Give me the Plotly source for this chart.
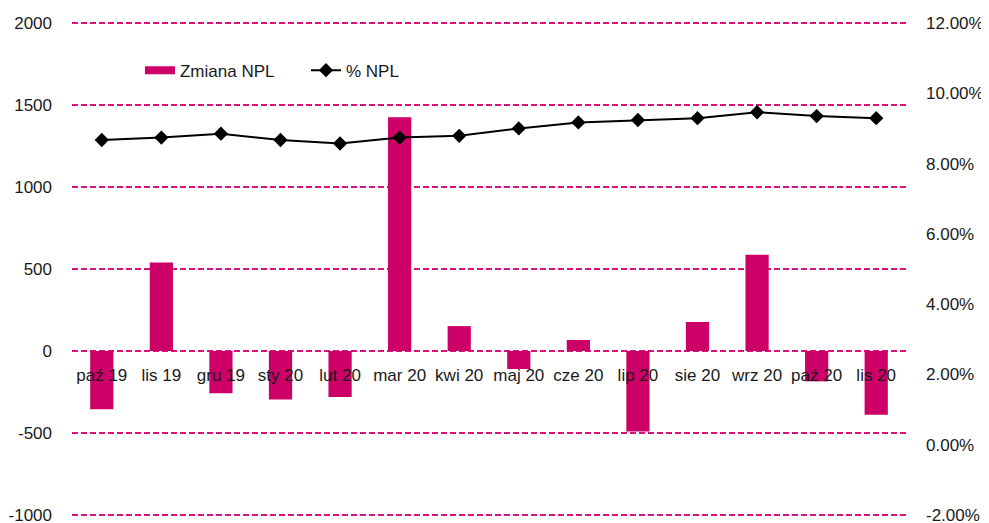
import plotly.graph_objects as go

categories = ["paź 19", "lis 19", "gru 19", "sty 20", "lut 20", "mar 20", "kwi 20",
              "maj 20", "cze 20", "lip 20", "sie 20", "wrz 20", "paź 20", "lis 20"]
zmiana_npl = [-355, 540, -258, -295, -280, 1425, 152, -110, 67, -490, 177, 587, -185, -388]
pct_npl = [0.0867, 0.0874, 0.0885, 0.0867, 0.0857, 0.0874, 0.0879,
           0.0900, 0.0917, 0.0924, 0.0929, 0.0946, 0.0935, 0.0929]

left_ticks = [-1000, -500, 0, 500, 1000, 1500, 2000]
left_labels = ["-1000", "-500", "0", "500", "1000", "1500", "2000"]
right_ticks = [-0.02, 0.0, 0.02, 0.04, 0.06, 0.08, 0.10, 0.12]
right_labels = ["-2.00%", "0.00%", "2.00%", "4.00%", "6.00%", "8.00%", "10.00%", "12.00%"]

BAR = "#CC0066"
GRID = "#D8127A"
FONT = "Liberation Sans, Arial, sans-serif"
FS = 17

# small padding so the edge gridlines (2000 / -1000) are drawn
PAD = 12
left_range = [-1000 - PAD, 2000 + PAD]
scale = 0.14 / 3000
right_range = [-0.02 - PAD * scale, 0.12 + PAD * scale]

fig = go.Figure()
fig.add_trace(go.Bar(
    x=categories, y=zmiana_npl, name="Zmiana NPL", showlegend=False,
    marker=dict(color=BAR, line=dict(width=0)), width=0.39, yaxis="y",
))
# legend entry for the bars (wide flat swatch like the original)
fig.add_trace(go.Scatter(
    x=[None], y=[None], name="Zmiana NPL", mode="lines",
    line=dict(color=BAR, width=8), yaxis="y", hoverinfo="skip",
))
fig.add_trace(go.Scatter(
    x=categories, y=pct_npl, name="% NPL", yaxis="y2", mode="lines+markers",
    line=dict(color="black", width=2),
    marker=dict(symbol="diamond", size=11, color="black"),
))

fig.update_layout(
    width=989, height=523,
    margin=dict(l=64, r=91, t=13, b=14),
    plot_bgcolor="white", paper_bgcolor="white",
    font=dict(family=FONT, size=FS, color="#1a1a1a"),
    showlegend=True,
    legend=dict(orientation="h", x=0.0815, y=0.9, xanchor="left", yanchor="middle",
                font=dict(size=FS), bgcolor="rgba(0,0,0,0)",
                entrywidth=121, entrywidthmode="pixels"),
    xaxis=dict(
        type="category", range=[-0.5, len(categories) - 0.5],
        anchor="free", position=(1000 + PAD) / (3000 + 2 * PAD),
        showline=False, showgrid=False, automargin=False,
        zeroline=False, ticks="", tickfont=dict(size=FS), ticklabelstandoff=12,
    ),
    yaxis=dict(
        range=left_range, tickvals=left_ticks, ticktext=left_labels, automargin=False,
        showgrid=True, gridcolor=GRID, griddash="6px,3px", gridwidth=1.5,
        zeroline=False, showline=False, ticks="", ticklabelstandoff=19,
        tickfont=dict(size=FS),
    ),
    yaxis2=dict(
        range=right_range, tickvals=right_ticks, ticktext=right_labels, automargin=False,
        overlaying="y", side="right", showgrid=False, zeroline=False, showline=False,
        ticks="", ticklabelstandoff=19, tickfont=dict(size=FS),
    ),
)

fig.write_html("out.html")
